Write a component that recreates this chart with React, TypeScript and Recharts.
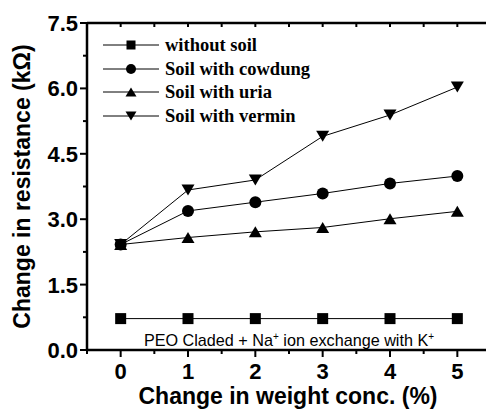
import React from 'react';
import { LineChart, Line, XAxis, YAxis, Legend } from 'recharts';

const concentrations = [0, 1, 2, 3, 4, 5];
const withoutSoil = [0.72, 0.72, 0.72, 0.72, 0.72, 0.72];
const cowdung = [2.42, 3.19, 3.39, 3.59, 3.82, 3.99];
const uria = [2.42, 2.58, 2.71, 2.81, 3.01, 3.18];
const vermin = [2.42, 3.67, 3.9, 4.9, 5.39, 6.03];

const xTicks = [-0.5, 0, 0.5, 1, 1.5, 2, 2.5, 3, 3.5, 4, 4.5, 5, 5.5];
const yTicks = [0, 0.75, 1.5, 2.25, 3, 3.75, 4.5, 5.25, 6, 6.75, 7.5];
const yMajor = [0, 1.5, 3, 4.5, 6, 7.5];

const seriesKeys = ['withoutSoil', 'cowdung', 'uria', 'vermin'];
const seriesNames = ['without soil', 'Soil with cowdung', 'Soil with uria', 'Soil with vermin'];
const markerTypes = ['square', 'circle', 'up', 'down'];

const data = concentrations.map((x, i) => ({
  x,
  withoutSoil: withoutSoil[i],
  cowdung: cowdung[i],
  uria: uria[i],
  vermin: vermin[i],
}));

const SANS = '"Liberation Sans", Arial, Helvetica, sans-serif';
const SERIF = '"Liberation Serif", "Times New Roman", serif';

function Marker({ type, cx, cy, s }: { type: string; cx: number; cy: number; s: number }) {
  if (type === 'square') {
    return <rect x={cx - s / 2} y={cy - s / 2} width={s} height={s} fill="#000" />;
  }
  if (type === 'circle') {
    return <circle cx={cx} cy={cy} r={s / 2 + 0.5} fill="#000" />;
  }
  const w = s + 2;
  const h = s;
  if (type === 'up') {
    return (
      <polygon
        points={`${cx},${cy - h / 2} ${cx + w / 2},${cy + h / 2} ${cx - w / 2},${cy + h / 2}`}
        fill="#000"
      />
    );
  }
  return (
    <polygon
      points={`${cx - w / 2},${cy - h / 2} ${cx + w / 2},${cy - h / 2} ${cx},${cy + h / 2}`}
      fill="#000"
    />
  );
}

const makeDot = (type: string) => (props: any) => {
  const { cx, cy, index } = props;
  if (cx == null || cy == null) return <g key={`n-${type}-${index}`} />;
  return (
    <g key={`d-${type}-${index}`}>
      <Marker type={type} cx={cx} cy={cy} s={11} />
    </g>
  );
};

const BottomTick = (props: any) => {
  const { x, y, payload } = props;
  const v = payload.value;
  const major = Number.isInteger(v);
  return (
    <g>
      <line x1={x} y1={y} x2={x} y2={y + (major ? 7 : 4)} stroke="#000" strokeWidth={2} />
      {major && (
        <text x={x} y={y + 29} textAnchor="middle" fontFamily={SANS} fontWeight="bold" fontSize={22} fill="#000">
          {v}
        </text>
      )}
    </g>
  );
};

const TopTick = (props: any) => {
  const { x, y } = props;
  return <line x1={x} y1={y} x2={x} y2={y + 4} stroke="#000" strokeWidth={2} />;
};

const LeftTick = (props: any) => {
  const { x, y, payload } = props;
  const v = payload.value;
  const major = yMajor.includes(v);
  return (
    <g>
      <line x1={x - (major ? 7 : 4)} y1={y} x2={x} y2={y} stroke="#000" strokeWidth={2} />
      {major && (
        <text x={x - 9} y={y + 8} textAnchor="end" fontFamily={SANS} fontWeight="bold" fontSize={22} fill="#000">
          {v.toFixed(1)}
        </text>
      )}
    </g>
  );
};

const YTitle = (props: any) => {
  const vb = props.viewBox || { x: 0, y: 23, width: 87, height: 327 };
  const cx = vb.x + 22;
  const cy = vb.y + vb.height / 2;
  return (
    <text
      x={cx}
      y={cy}
      transform={`rotate(-90, ${cx}, ${cy})`}
      textAnchor="middle"
      dominantBaseline="central"
      fontFamily={SANS}
      fontWeight="bold"
      fontSize={23}
      fill="#000"
    >
      Change in resistance (kΩ)
    </text>
  );
};

const XTitle = (props: any) => {
  const vb = props.viewBox || { x: 87, y: 350, width: 404, height: 60 };
  return (
    <text
      x={vb.x + vb.width / 2 - 1}
      y={vb.y + 54}
      textAnchor="middle"
      fontFamily={SANS}
      fontWeight="bold"
      fontSize={23}
      fill="#000"
    >
      Change in weight conc. (%)
    </text>
  );
};

const renderLegend = (props: any) => {
  const payload = [...(props.payload || [])].sort(
    (a: any, b: any) => seriesKeys.indexOf(a.dataKey) - seriesKeys.indexOf(b.dataKey)
  );
  return (
    <div style={{ fontFamily: SERIF, fontWeight: 'bold', fontSize: 18.5, color: '#000' }}>
      {payload.map((entry: any, i: number) => {
        const idx = seriesKeys.indexOf(entry.dataKey);
        const type = markerTypes[idx >= 0 ? idx : i];
        return (
          <div key={`leg-${i}`} style={{ display: 'flex', alignItems: 'center', height: 23.7 }}>
            <svg width={56} height={16} style={{ display: 'block' }}>
              <line x1={0} y1={8} x2={56} y2={8} stroke="#000" strokeWidth={1} />
              <Marker type={type} cx={28} cy={8} s={9} />
            </svg>
            <span style={{ marginLeft: 6, whiteSpace: 'nowrap', lineHeight: '20px' }}>{entry.value}</span>
          </div>
        );
      })}
    </div>
  );
};

export default function App() {
  return (
    <div
      style={{
        position: 'absolute',
        left: 0,
        top: 0,
        width: 486,
        height: 410,
        overflow: 'hidden',
        background: '#fff',
      }}
    >
      <LineChart width={494} height={410} data={data} margin={{ top: 0, right: 3, left: 0, bottom: 0 }}>
        <XAxis
          xAxisId="b"
          dataKey="x"
          type="number"
          domain={[-0.5, 5.5]}
          ticks={xTicks}
          interval={0}
          tickLine={false}
          tickSize={0}
          tickMargin={0}
          axisLine={{ stroke: '#000', strokeWidth: 2.5 }}
          tick={<BottomTick />}
          height={60}
          allowDataOverflow
          label={<XTitle />}
        />
        <XAxis
          xAxisId="t"
          orientation="top"
          dataKey="x"
          type="number"
          domain={[-0.5, 5.5]}
          ticks={xTicks}
          interval={0}
          tickLine={false}
          tickSize={0}
          tickMargin={0}
          axisLine={{ stroke: '#000', strokeWidth: 2.5 }}
          tick={<TopTick />}
          height={23}
          allowDataOverflow
        />
        <YAxis
          yAxisId="l"
          type="number"
          domain={[0, 7.5]}
          ticks={yTicks}
          interval={0}
          tickLine={false}
          tickSize={0}
          tickMargin={0}
          axisLine={{ stroke: '#000', strokeWidth: 2.5 }}
          tick={<LeftTick />}
          width={87}
          allowDataOverflow
          label={<YTitle />}
        />
        <Legend
          layout="vertical"
          align="center"
          verticalAlign="middle"
          itemSorter={null as any}
          content={renderLegend}
          wrapperStyle={{ position: 'absolute', left: 103, top: 33, width: 'auto', height: 'auto' }}
        />
        {seriesKeys.map((k, i) => (
          <Line
            key={k}
            xAxisId="b"
            yAxisId="l"
            dataKey={k}
            name={seriesNames[i]}
            stroke="#000"
            strokeWidth={1}
            dot={makeDot(markerTypes[i])}
            activeDot={false}
            isAnimationActive={false}
            type="linear"
          />
        ))}
      </LineChart>
      <div
        style={{
          position: 'absolute',
          left: 87,
          width: 404,
          top: 331,
          textAlign: 'center',
          fontFamily: SANS,
          fontSize: 16.2,
          lineHeight: '18px',
          color: '#000',
          whiteSpace: 'nowrap',
        }}
      >
        PEO Claded + Na
        <span style={{ fontSize: 10, position: 'relative', top: -6 }}>+</span> ion exchange with K
        <span style={{ fontSize: 10, position: 'relative', top: -6 }}>+</span>
      </div>
    </div>
  );
}
